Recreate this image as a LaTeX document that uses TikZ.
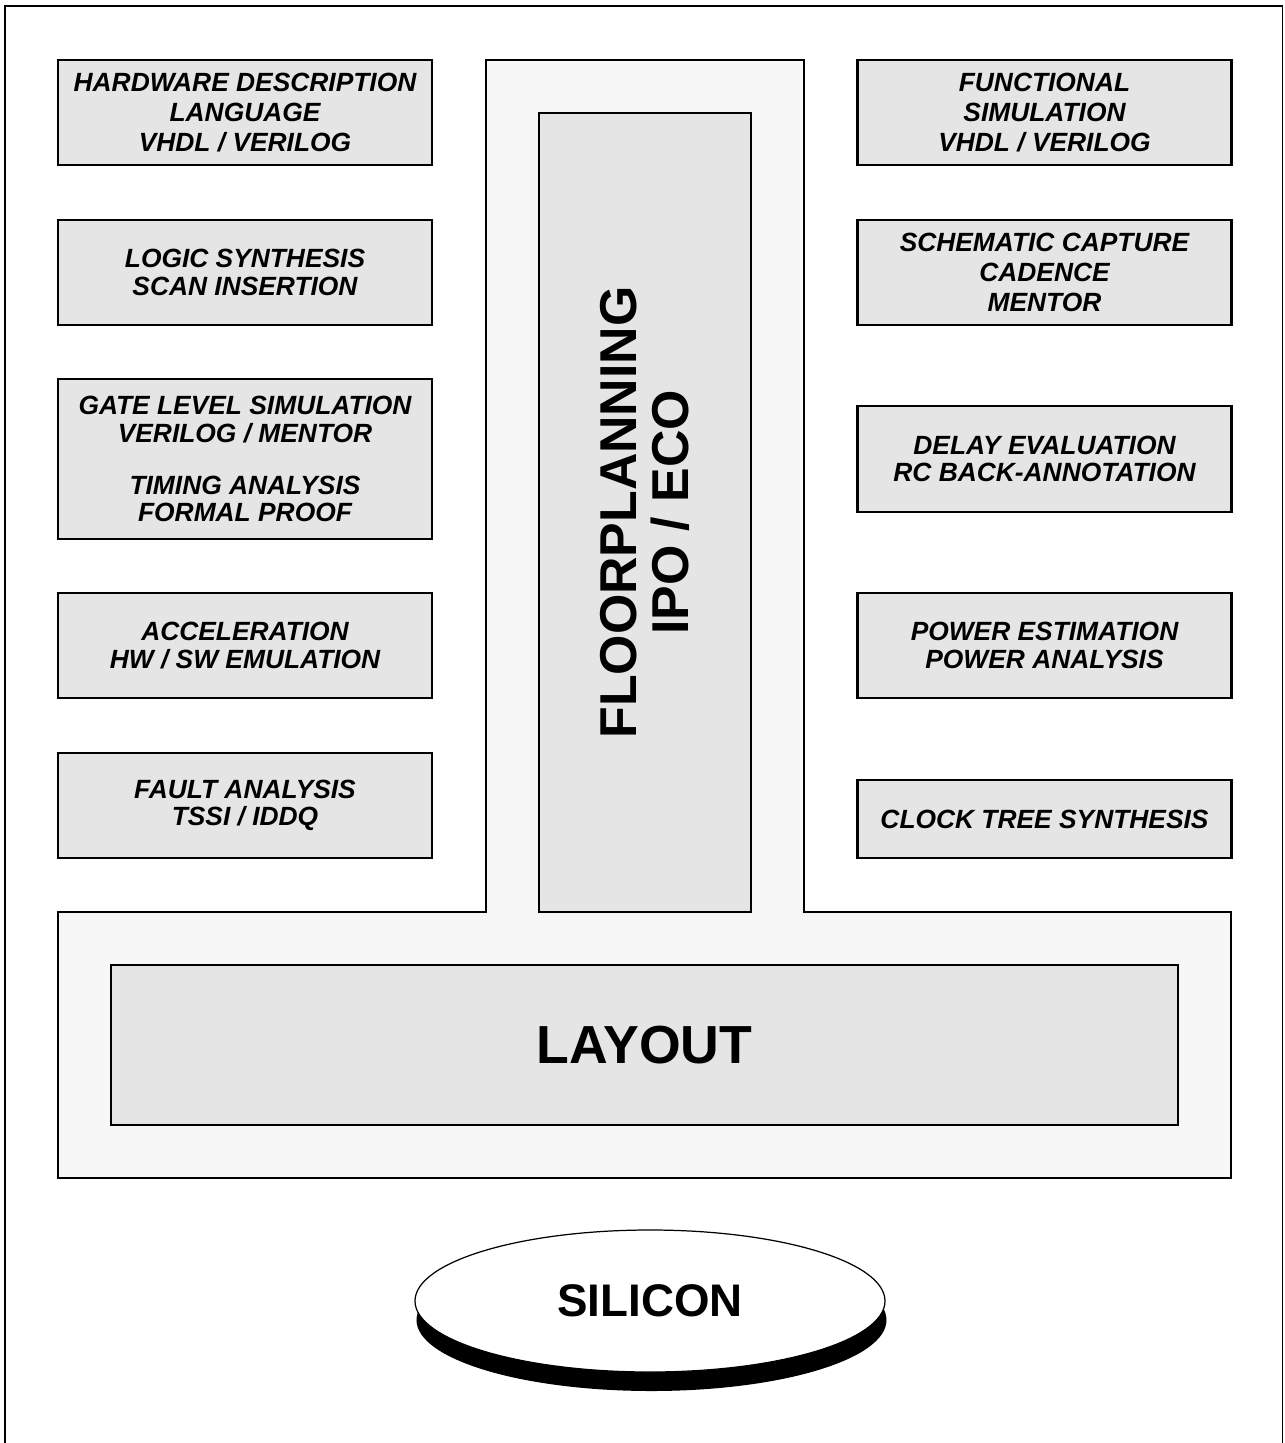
\documentclass[tikz,border=0pt]{standalone}
\usepackage{fontspec}
\setmainfont{Liberation Sans}
\usetikzlibrary{shapes.geometric,shadows}
\definecolor{boxgray}{HTML}{E5E5E5}
\definecolor{tgray}{HTML}{F7F7F7}
\begin{document}
\begin{tikzpicture}[x=0.2mm,y=-0.2mm,
  stage/.style={draw=black,line width=1.6pt,fill=boxgray,inner sep=0pt,minimum width=74.8mm,minimum height=21mm,align=center,font=\fontsize{15}{15.5}\selectfont\bfseries\itshape},
  tall/.style={font=\fontsize{15}{17}\selectfont\bfseries\itshape},
  big/.style={draw=black,line width=1.6pt,fill=boxgray,inner sep=0pt,align=center,font=\fontsize{30}{30}\selectfont\bfseries}]
\useasboundingbox (0,0) rectangle (1284,1443);
\draw [line width=1.1pt] (5,1443) -- (5,6) -- (1282.5,6) -- (1282.5,1443);
\draw [line width=1.6pt,fill=tgray] (486,60) -- (804,60) -- (804,912) -- (1231,912) -- (1231,1178) -- (58,1178) -- (58,912) -- (486,912) -- cycle;
\node [big,font=\fontsize{29.5}{30}\selectfont\bfseries,minimum width=159.8mm,minimum height=42.4mm,rotate=90] (floor) at (645,512.5) {FLOORPLANNING\\IPO / ECO};
\node [big,font=\fontsize{30.5}{30}\selectfont\bfseries,minimum width=213.4mm,minimum height=32mm] (layout) at (644.5,1045) {LAYOUT};
\node [stage,tall] (hdl) at (245,112.5) {HARDWARE DESCRIPTION\\LANGUAGE\\VHDL / VERILOG};
\node [stage] (synth) at (245,272.5) {LOGIC SYNTHESIS\\SCAN INSERTION};
\node [stage,minimum height=32mm] (gate) at (245,459) {GATE LEVEL SIMULATION\\VERILOG / MENTOR\\[14pt]TIMING ANALYSIS\\FORMAL PROOF};
\node [stage] (accel) at (245,645.5) {ACCELERATION\\HW / SW EMULATION};
\node [stage] (fault) at (245,805.5) {FAULT ANALYSIS\\TSSI / IDDQ};
\node [stage,tall] (func) at (1044.5,112.5) {FUNCTIONAL\\SIMULATION\\VHDL / VERILOG};
\node [stage,tall] (schem) at (1044.5,272.5) {SCHEMATIC CAPTURE\\CADENCE\\MENTOR};
\node [stage,minimum height=21.2mm] (delay) at (1044.5,459) {DELAY EVALUATION\\RC BACK-ANNOTATION};
\node [stage] (power) at (1044.5,645.5) {POWER ESTIMATION\\POWER ANALYSIS};
\node [stage,minimum height=15.6mm] (clock) at (1044.5,819) {CLOCK TREE SYNTHESIS};
\node [ellipse,draw=black,line width=0.7pt,fill=white,inner sep=0pt,minimum width=94mm,minimum height=28.4mm,
  drop shadow={shadow xshift=0.3mm,shadow yshift=-3.8mm,fill=black,opacity=1},
  font=\fontsize{26}{28}\selectfont\bfseries] (silicon) at (650,1301) {SILICON};
\end{tikzpicture}
\end{document}
